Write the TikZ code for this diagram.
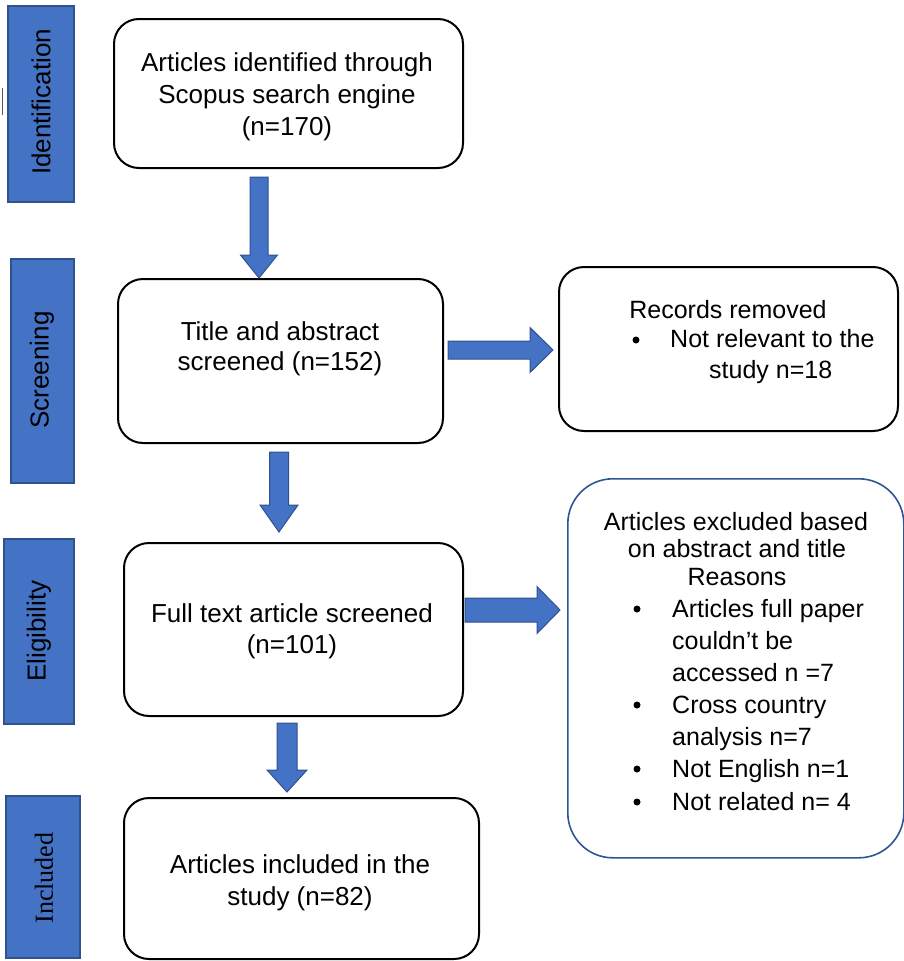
\documentclass[tikz,border=0pt]{standalone}
\usepackage{fontspec}
\setmainfont{Liberation Sans}
\newfontfamily\timesfont{Liberation Serif}
\usetikzlibrary{calc}
\definecolor{barblue}{HTML}{4472C4}
\definecolor{bardark}{HTML}{2F528F}
\definecolor{edgeblue}{HTML}{2F5597}
\tikzset{
  stage/.style={draw=bardark, fill=barblue, line width=1.5pt, anchor=north west, inner sep=0pt},
  box/.style={draw=black, line width=2pt, rounded corners=25pt, fill=white, anchor=north west, inner sep=0pt},
  rbox/.style={draw=edgeblue, line width=1.6pt, rounded corners=45pt, fill=white, anchor=north west, inner sep=0pt},
  stagelabel/.style={rotate=90, font=\fontsize{26}{30}\selectfont, inner sep=0pt},
  ltext/.style={anchor=base, font=\fontsize{26}{32}\selectfont, inner sep=0pt},
  rtext/.style={anchor=base west, font=\fontsize{25}{30}\selectfont, inner sep=0pt},
  rctext/.style={anchor=base, font=\fontsize{25}{30}\selectfont, inner sep=0pt},
  bulletdot/.style={circle, fill=black, minimum size=7pt, inner sep=0pt},
  blockarrow/.style={fill=barblue, draw=bardark, line width=1pt, line join=miter},
}
\newcommand{\blockdown}[5]{%
  \path[blockarrow] let \p1=(#1), \p2=(#2) in
  (\x1-#3pt,\y1) -- (\x1+#3pt,\y1) -- (\x1+#3pt,\y2+#5pt) -- (\x1+#4pt,\y2+#5pt)
  -- (\x2,\y2) -- (\x1-#4pt,\y2+#5pt) -- (\x1-#3pt,\y2+#5pt) -- cycle;}
\newcommand{\blockright}[5]{%
  \path[blockarrow] let \p1=(#1), \p2=(#2) in
  (\x1,\y1+#3pt) -- (\x2-#5pt,\y1+#3pt) -- (\x2-#5pt,\y1+#4pt) -- (\x2,\y2)
  -- (\x2-#5pt,\y1-#4pt) -- (\x2-#5pt,\y1-#3pt) -- (\x1,\y1-#3pt) -- cycle;}
\begin{document}
\begin{tikzpicture}[x=1pt,y=-1pt]
\useasboundingbox[fill=white] (0,0) rectangle (904,961);

% stage bars
\node[stage, minimum width=66pt, minimum height=196pt] (s1) at (7,5) {};
\node[stage, minimum width=63pt, minimum height=224pt] (s2) at (10,258) {};
\node[stage, minimum width=70pt, minimum height=185pt] (s3) at (3,538) {};
\node[stage, minimum width=74pt, minimum height=162pt] (s4) at (5,795) {};
\node[stagelabel] (l1) at (41,102) {Identification};
\node[stagelabel] (l2) at (42,370) {Screening};
\node[stagelabel] (l3) at (39,631) {Eligibility};
\node[stagelabel, font=\fontsize{26}{30}\selectfont\timesfont] (l4) at (44,878) {Included};
\draw[gray!70!black, line width=1.2pt] (2.5,88) -- (2.5,115);

% main boxes
\node[box, minimum width=349pt, minimum height=149pt] (b1) at (113,18) {};
\node[box, minimum width=325pt, minimum height=164pt] (b2) at (117,278) {};
\node[box, minimum width=339pt, minimum height=173pt] (b3) at (123,542) {};
\node[box, minimum width=355pt, minimum height=161pt] (b4) at (123,797) {};
\node[box, minimum width=339pt, minimum height=164pt] (r1) at (558,266) {};
\node[rbox, minimum width=336pt, minimum height=379pt] (r2) at (567,478) {};

% texts of main boxes
\node[ltext] (t11) at (287,71) {Articles identified through};
\node[ltext] (t12) at (287,103) {Scopus search engine};
\node[ltext] (t13) at (287,135) {(n=170)};
\node[ltext] (t21) at (280,340) {Title and abstract};
\node[ltext] (t22) at (280,370) {screened (n=152)};
\node[ltext] (t31) at (292,622) {Full text article screened};
\node[ltext] (t32) at (292,653) {(n=101)};
\node[ltext] (t41) at (300,873) {Articles included in the};
\node[ltext] (t42) at (300,905) {study (n=82)};

% right box 1
\node[rctext] (u1) at (728,318) {Records removed};
\node[bulletdot] (ub1) at (636,340) {};
\node[rtext] (u2) at (670,347) {Not relevant to the};
\node[rtext] (u3) at (709,378) {study n=18};

% right box 2
\node[rctext] (v1) at (736,530) {Articles excluded based};
\node[rctext] (v2) at (737,557) {on abstract and title};
\node[rctext] (v3) at (737,585) {Reasons};
\node[bulletdot] (vb1) at (637,609) {};
\node[rtext] (v4) at (672,617) {Articles full paper};
\node[rtext] (v5) at (672,649) {couldn’t be};
\node[rtext] (v6) at (672,681) {accessed n =7};
\node[bulletdot] (vb2) at (637,705) {};
\node[rtext] (v7) at (672,713) {Cross country};
\node[rtext] (v8) at (672,745) {analysis n=7};
\node[bulletdot] (vb3) at (637,769) {};
\node[rtext] (v9) at (672,777) {Not English n=1};
\node[bulletdot] (vb4) at (637,802) {};
\node[rtext] (v10) at (672,810) {Not related n= 4};

% block arrows
\coordinate (a1s) at (259,177);
\coordinate (a1e) at (259,278);
\coordinate (a2s) at (279,452);
\coordinate (a2e) at (279,532);
\coordinate (a3s) at (287,723);
\coordinate (a3e) at (287,792);
\coordinate (a4s) at (448,350);
\coordinate (a4e) at (553,350);
\coordinate (a5s) at (465,610);
\coordinate (a5e) at (560,610);
\blockdown{a1s}{a1e}{9}{18.5}{23}
\blockdown{a2s}{a2e}{9.5}{19}{27}
\blockdown{a3s}{a3e}{10}{20}{22}
\blockright{a4s}{a4e}{9}{22.5}{23}
\blockright{a5s}{a5e}{12}{23.5}{23}
\end{tikzpicture}
\end{document}
